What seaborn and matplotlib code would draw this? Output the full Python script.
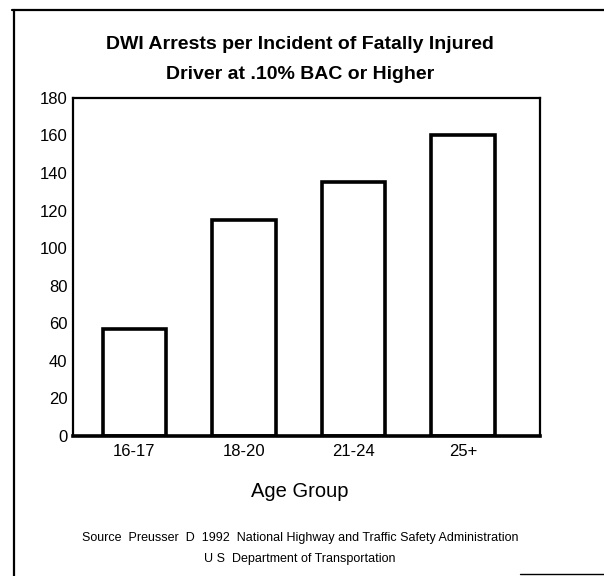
import pandas as pd
import seaborn as sns
import matplotlib.pyplot as plt
from matplotlib.lines import Line2D

age_groups = ['16-17', '18-20', '21-24', '25+']
arrests = [57, 115, 135, 160]
y_ticks = [0, 20, 40, 60, 80, 100, 120, 140, 160, 180]

sns.set_style('white')
plt.rcParams['font.family'] = ['Liberation Sans Narrow', 'Liberation Sans', 'DejaVu Sans']
plt.rcParams['text.color'] = 'black'

df = pd.DataFrame({'age': age_groups, 'arrests': arrests})

fig = plt.figure(figsize=(6.04, 5.76), dpi=100)
ax = fig.add_axes([0.121, 0.243, 0.773, 0.587])

sns.barplot(data=df, x='age', y='arrests', color='white', edgecolor='black',
            linewidth=2.6, width=0.58, ax=ax)

ax.set_xlim(-0.56, 3.7)
ax.set_ylim(0, 180)
ax.set_yticks(y_ticks)
ax.set_xlabel(None)
ax.set_ylabel(None)
ax.tick_params(axis='both', length=0, labelsize=12, colors='black')
ax.tick_params(axis='y', pad=4)
ax.tick_params(axis='x', pad=6)

for side in ['top', 'right', 'left']:
    ax.spines[side].set_linewidth(1.6)
    ax.spines[side].set_color('black')
ax.spines['bottom'].set_linewidth(2.6)
ax.spines['bottom'].set_color('black')

# title and captions
fig.text(0.497, 0.922, 'DWI Arrests per Incident of Fatally Injured',
         ha='center', va='center', fontsize=14, fontweight='bold')
fig.text(0.497, 0.870, 'Driver at .10% BAC or Higher',
         ha='center', va='center', fontsize=14, fontweight='bold')
fig.text(0.497, 0.146, 'Age Group', ha='center', va='center', fontsize=14.5)
fig.text(0.497, 0.066,
         'Source  Preusser  D  1992  National Highway and Traffic Safety Administration',
         ha='center', va='center', fontsize=9)
fig.text(0.497, 0.030, 'U S  Department of Transportation',
         ha='center', va='center', fontsize=9)

# scanned page frame
W, H = 604, 576
fig.add_artist(Line2D([12 / W, 1.0], [1 - 10 / H, 1 - 10 / H], color='black', lw=1.6))
fig.add_artist(Line2D([14 / W, 14 / W], [1 - 10 / H, 0.0], color='black', lw=1.6))
fig.add_artist(Line2D([520 / W, 1.0], [1 - 574 / H, 1 - 574 / H], color='black', lw=1.0))

fig.savefig('out.png', dpi=100)
